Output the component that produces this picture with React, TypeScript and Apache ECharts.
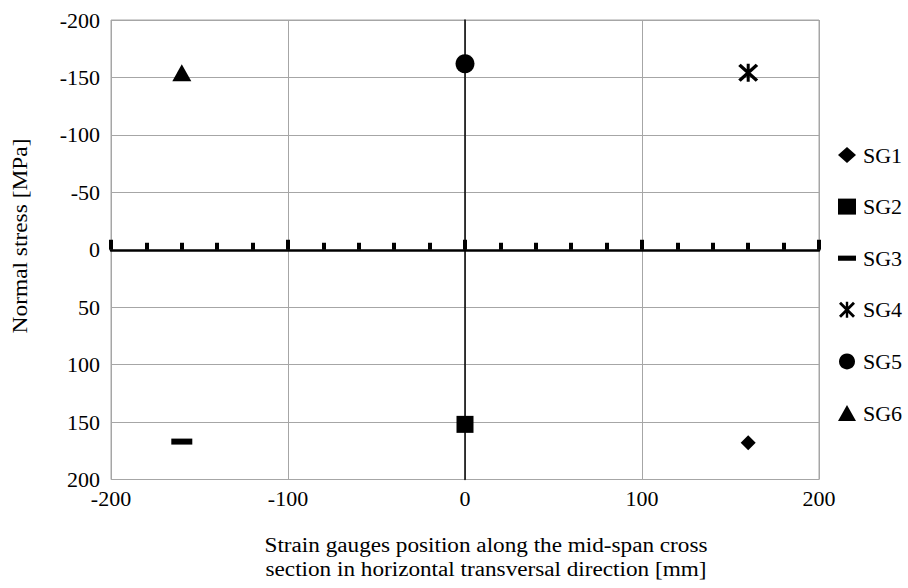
import React, { useEffect, useRef } from "react";
import * as echarts from "echarts";

const gaugeNames = ["SG1", "SG2", "SG3", "SG4", "SG5", "SG6"];
const gaugePositions = [160, 0, -160, 160, 0, -160];
const gaugeStress = [168, 152, 167, -154, -162, -154];

const xTitleLines = [
  "Strain gauges position along the mid-span cross",
  "section in horizontal transversal direction [mm]",
];
const yTitle = "Normal stress [MPa]";

const FONT = "Liberation Serif";

const dashPath = "path://M0,0L21,0L21,6L0,6Z";
const starPath =
  "path://M8.5,0L11.5,0L11.5,20L8.5,20Z M0,2.5L2.5,0L20,17.5L17.5,20Z M17.5,0L20,2.5L2.5,20L0,17.5Z";

const symbols: any[] = ["diamond", "rect", dashPath, starPath, "circle", "triangle"];
const symbolSizes: any[] = [[15, 15], [17, 17], [21, 6], [20, 18], [19, 19], [19, 17]];

export default function App() {
  const ref = useRef<HTMLDivElement>(null);
  useEffect(() => {
    if (!ref.current) return;
    const chart = echarts.init(ref.current, undefined, { renderer: "svg" });
    const gray = "#a6a6a6";
    const series = gaugeNames.map((name, i) => ({
      name,
      type: "scatter",
      xAxisIndex: 0,
      yAxisIndex: 0,
      symbol: symbols[i],
      symbolSize: symbolSizes[i],
      symbolKeepAspect: false,
      itemStyle: { color: "#000", opacity: 1 },
      data: [[gaugePositions[i], gaugeStress[i]]],
      z: 10,
    }));
    chart.setOption({
      animation: false,
      textStyle: { fontFamily: FONT },
      grid: {
        left: 111,
        right: 89,
        top: 20,
        bottom: 108.5,
        show: true,
        borderColor: gray,
        borderWidth: 1,
      },
      xAxis: [
        {
          type: "value",
          min: -200,
          max: 200,
          interval: 100,
          position: "bottom",
          axisLine: { show: false, onZero: false },
          axisTick: { show: false },
          axisLabel: { fontFamily: FONT, fontSize: 22, color: "#000", margin: 8 },
          splitLine: { show: true, lineStyle: { color: gray, width: 1 } },
        },
        {
          type: "value",
          min: -200,
          max: 200,
          interval: 100,
          splitNumber: 5,
          position: "bottom",
          axisLine: { show: true, onZero: true, lineStyle: { color: "#000", width: 2.5 } },
          axisTick: { show: true, inside: true, length: 10, lineStyle: { color: "#000", width: 4 } },
          minorTick: { show: true, splitNumber: 5, length: 7, lineStyle: { color: "#000", width: 4 } },
          axisLabel: { show: false },
          splitLine: { show: false },
        },
      ],
      yAxis: [
        {
          type: "value",
          min: -200,
          max: 200,
          interval: 50,
          inverse: true,
          position: "left",
          axisLine: { show: false, onZero: false },
          axisTick: { show: false },
          axisLabel: { fontFamily: FONT, fontSize: 22, color: "#000", margin: 11 },
          splitLine: { show: true, lineStyle: { color: gray, width: 1 } },
        },
        {
          type: "value",
          min: -200,
          max: 200,
          interval: 50,
          inverse: true,
          position: "left",
          axisLine: { show: true, onZero: true, lineStyle: { color: "#000", width: 1.5 } },
          axisTick: { show: false },
          axisLabel: { show: false },
          splitLine: { show: false },
        },
      ],
      legend: {
        orient: "vertical",
        left: 833,
        top: 139,
        itemWidth: 18,
        itemHeight: 16,
        itemGap: 29.6,
        symbolKeepAspect: true,
        textStyle: { fontFamily: FONT, fontSize: 22, color: "#000", padding: [0, 0, 0, 2] },
        data: gaugeNames,
      },
      graphic: [
        {
          type: "text",
          x: 21,
          y: 236,
          rotation: Math.PI / 2,
          scaleX: 1.17,
          style: {
            text: yTitle,
            fontFamily: FONT,
            fontSize: 20,
            fill: "#000",
            textAlign: "center",
            textVerticalAlign: "middle",
          },
        },
        {
          type: "text",
          x: 486,
          y: 534,
          scaleX: 1.16,
          style: {
            text: xTitleLines.join("\n"),
            fontFamily: FONT,
            fontSize: 20,
            lineHeight: 24,
            fill: "#000",
            textAlign: "center",
            textVerticalAlign: "top",
          },
        },
      ],
      series,
    });
    return () => chart.dispose();
  }, []);
  return <div ref={ref} style={{ width: 908, height: 588, position: "absolute", left: 0, top: 0 }} />;
}
